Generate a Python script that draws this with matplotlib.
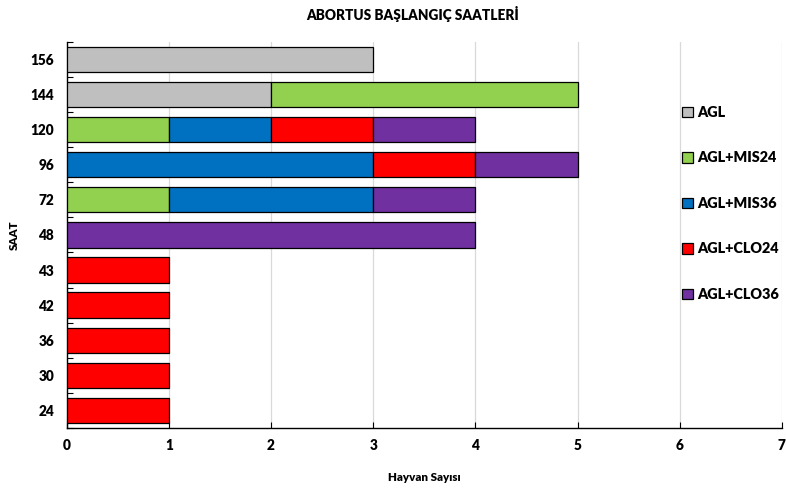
import matplotlib
matplotlib.use("Agg")
import matplotlib.pyplot as plt
import numpy as np

plt.rcParams['font.family'] = ['Lato', 'DejaVu Sans']
plt.rcParams['font.weight'] = 'heavy'

# saat kategorileri (alttan üste)
saat = ['24', '30', '36', '42', '43', '48', '72', '96', '120', '144', '156']
agl = [0, 0, 0, 0, 0, 0, 0, 0, 0, 2, 3]
agl_mis24 = [0, 0, 0, 0, 0, 0, 1, 0, 1, 3, 0]
agl_mis36 = [0, 0, 0, 0, 0, 0, 2, 3, 1, 0, 0]
agl_clo24 = [1, 1, 1, 1, 1, 0, 0, 1, 1, 0, 0]
agl_clo36 = [0, 0, 0, 0, 0, 4, 1, 1, 1, 0, 0]

series = [
    ("AGL", agl, "#bfbfbf"),
    ("AGL+MIS24", agl_mis24, "#92d050"),
    ("AGL+MIS36", agl_mis36, "#0070c0"),
    ("AGL+CLO24", agl_clo24, "#ff0000"),
    ("AGL+CLO36", agl_clo36, "#7030a0"),
]

fig = plt.figure(figsize=(7.86, 4.93), dpi=100)
ax = fig.add_axes([0.0848, 0.132, 0.910, 0.783])

y = np.arange(len(saat))
left = np.zeros(len(saat))
handles = []
for name, vals, col in series:
    vals = np.array(vals, dtype=float)
    mask = vals > 0
    ax.barh(y[mask], vals[mask], left=left[mask], height=0.72, color=col,
            edgecolor='black', linewidth=0.9, zorder=3)
    handles.append(plt.Rectangle((0, 0), 1, 1, facecolor=col, edgecolor='black', linewidth=0.9))
    left += vals

ax.set_xlim(0, 7)
ax.set_ylim(-0.5, len(saat) - 0.5)
ax.set_xticks(range(8))
ax.set_yticks(y)
ax.set_yticklabels(saat, fontweight='heavy')
ax.set_xticklabels([str(i) for i in range(8)], fontweight='heavy')
ax.set_yticks(np.arange(-0.5, len(saat), 1), minor=True)
ax.tick_params(axis='y', which='major', length=0, pad=9, labelsize=9.8)
ax.tick_params(axis='y', which='minor', direction='in', length=4, width=0.8)
ax.tick_params(axis='x', direction='in', length=4, width=0.8, pad=8, labelsize=9.8)
ax.grid(axis='x', color='#d9d9d9', linewidth=0.9, zorder=0)
for s in ['top', 'right']:
    ax.spines[s].set_visible(False)
for s in ['left', 'bottom']:
    ax.spines[s].set_linewidth(1.0)
    ax.spines[s].set_color('black')

ax.set_xlabel("Hayvan Sayısı", fontsize=8.3, fontweight='heavy')
ax.xaxis.set_label_coords(0.5, -0.115)
ax.set_ylabel("SAAT", fontsize=8.3, fontweight='heavy')
ax.yaxis.set_label_coords(-0.066, 0.5)
fig.text(0.525, 0.988, "ABORTUS BAŞLANGIÇ SAATLERİ", ha='center', va='top',
         fontsize=9.8, fontweight='heavy')

fig.legend(handles, [s[0] for s in series], loc='upper left',
           bbox_to_anchor=(0.860, 0.797), frameon=False,
           prop={'size': 10.4, 'weight': 'heavy'},
           handlelength=0.75, handleheight=0.75, handletextpad=0.35,
           labelspacing=2.25, borderaxespad=0)

fig.savefig("out.png", dpi=100)
